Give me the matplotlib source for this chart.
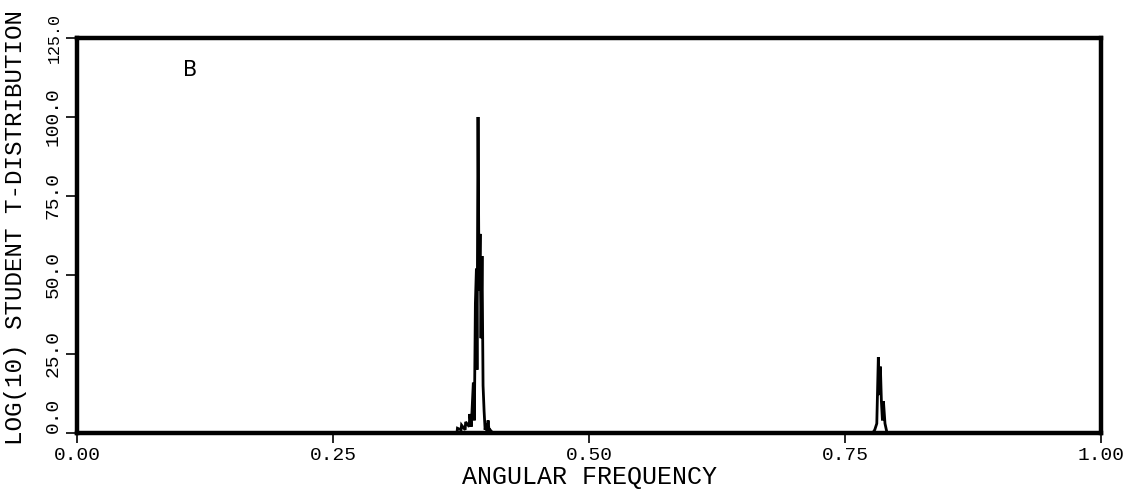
import matplotlib
matplotlib.use("Agg")
import matplotlib.pyplot as plt

# Data: angular frequency vs log10 Student t-distribution
peak1_freq = [0.000, 0.368, 0.371, 0.3715, 0.375, 0.3755, 0.379, 0.3795, 0.383, 0.3835,
              0.385, 0.387, 0.388, 0.389,
              0.390, 0.3906, 0.3916, 0.3926, 0.3936, 0.3945, 0.3955, 0.3965, 0.3975,
              0.3985, 0.3994, 0.4004, 0.4014, 0.4024, 0.4033, 0.406]
peak1_vals = [0.0, 0.0, 0.0, 1.5, 1.0, 2.5, 1.0, 3.5, 2.0, 6.0,
              2.0, 16.0, 4.0, 41.0,
              52.0, 20.0, 100.0, 45.0, 63.0, 30.0, 56.0, 15.0, 7.0,
              1.0, 3.0, 0.5, 4.0, 0.5, 1.0, 0.0]
peak2_freq = [0.777, 0.779, 0.781, 0.7825, 0.7835, 0.7845, 0.7855, 0.7865, 0.7875,
              0.789, 0.791, 1.000]
peak2_vals = [0.0, 1.0, 3.0, 24.0, 12.0, 21.0, 10.0, 4.0, 10.0, 3.0, 0.0, 0.0]

x_ticks = [0.0, 0.25, 0.5, 0.75, 1.0]
x_ticklabels = ["0.00", "0.25", "0.50", "0.75", "1.00"]
y_ticks = [0.0, 25.0, 50.0, 75.0, 100.0, 125.0]
y_ticklabels = ["0.0", "25.0", "50.0", "75.0", "100.0", "125.0"]

freq = peak1_freq + peak2_freq
vals = peak1_vals + peak2_vals

mono = ["Liberation Mono", "DejaVu Sans Mono"]

fig = plt.figure(figsize=(11.43, 4.94), dpi=100)
ax = fig.add_axes([0.0674, 0.1235, 0.8959, 0.7996])

ax.plot(freq, vals, color="black", linewidth=2.0, solid_joinstyle="miter")

ax.set_xlim(0, 1)
ax.set_ylim(0, 125)
ax.set_xticks(x_ticks)
ax.set_xticklabels(x_ticklabels, family=mono, fontsize=14)
ax.set_yticks(y_ticks)
ax.set_yticklabels(y_ticklabels, family=mono, fontsize=14, rotation=90, va="center")
ylabs = ax.get_yticklabels()
ylabs[0].set_va("bottom")
ylabs[-1].set_fontsize(12)

ax.tick_params(axis="x", direction="out", length=7, width=1.2, pad=3)
ax.tick_params(axis="y", direction="out", length=8, width=1.2, pad=3)

for s in ax.spines.values():
    s.set_linewidth(3.2)
    s.set_color("black")

ax.set_xlabel("ANGULAR FREQUENCY", family=mono, fontsize=18, labelpad=1)
ax.set_ylabel("LOG(10) STUDENT T-DISTRIBUTION", family=mono, fontsize=17.5)
ax.yaxis.set_label_coords(-0.049, 0.52)

ax.text(0.11, 115, "B", fontsize=15, ha="center", va="center", family="DejaVu Sans")

fig.savefig("out.png", dpi=100)
